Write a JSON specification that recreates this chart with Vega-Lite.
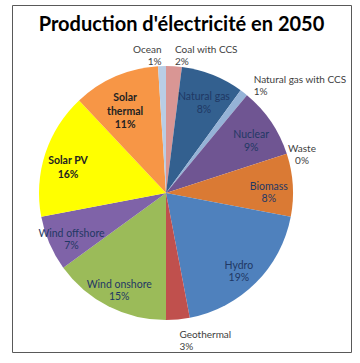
{
  "$schema": "https://vega.github.io/schema/vega-lite/v6.json",
  "autosize": "none",
  "width": 339,
  "height": 347,
  "padding": {"left": 12, "top": 5, "right": 9, "bottom": 11},
  "background": "white",
  "view": {"stroke": "#595959", "strokeWidth": 1},
  "config": {"font": "Lato"},
  "title": {
    "text": "Production d'électricité en 2050",
    "font": "Lato",
    "fontSize": 20,
    "fontWeight": "bold",
    "color": "#000000",
    "anchor": "middle",
    "frame": "group",
    "orient": "top",
    "offset": -30
  },
  "data": {
    "values": [
      {"i": 1, "name": "Coal with CCS", "value": 2, "label": "Coal with CCS\n2%"},
      {"i": 2, "name": "Natural gas", "value": 8, "label": "Natural gas\n8%"},
      {"i": 3, "name": "Natural gas with CCS", "value": 1, "label": "Natural gas with CCS\n1%"},
      {"i": 4, "name": "Nuclear", "value": 9, "label": "Nuclear\n9%"},
      {"i": 5, "name": "Waste", "value": 0, "label": "Waste\n0%"},
      {"i": 6, "name": "Biomass", "value": 8, "label": "Biomass\n8%"},
      {"i": 7, "name": "Hydro", "value": 19, "label": "Hydro\n19%"},
      {"i": 8, "name": "Geothermal", "value": 3, "label": "Geothermal\n3%"},
      {"i": 9, "name": "Wind onshore", "value": 15, "label": "Wind onshore\n15%"},
      {"i": 10, "name": "Wind offshore", "value": 7, "label": "Wind offshore\n7%"},
      {"i": 11, "name": "Solar PV", "value": 16, "label": "Solar PV\n16%"},
      {"i": 12, "name": "Solar thermal", "value": 11, "label": "Solar\nthermal\n11%"},
      {"i": 13, "name": "Ocean", "value": 1, "label": "Ocean\n1%"}
    ]
  },
  "transform": [
    {"stack": "value", "groupby": [], "sort": [{"field": "i", "order": "ascending"}], "as": ["v0", "v1"]},
    {"calculate": "(datum.v0 + datum.v1) / 2", "as": "mid"}
  ],
  "layer": [
    {
      "mark": {"type": "arc", "outerRadius": 127, "x": {"expr": "width/2 - 15.5"}, "y": {"expr": "height/2 + 14.5"}},
      "encoding": {
        "theta": {"field": "v0", "type": "quantitative", "scale": {"domain": [0, 100]}},
        "theta2": {"field": "v1"},
        "color": {
          "field": "name",
          "type": "nominal",
          "legend": null,
          "scale": {
            "domain": ["Coal with CCS", "Natural gas", "Natural gas with CCS", "Nuclear", "Waste", "Biomass", "Hydro", "Geothermal", "Wind onshore", "Wind offshore", "Solar PV", "Solar thermal", "Ocean"],
            "range": ["#D99694", "#33608F", "#95B3D7", "#6F5592", "#4BACC6", "#DA7A34", "#4F81BD", "#C0504D", "#9BBB59", "#7F63A8", "#FFFF00", "#F79646", "#B9CDE5"]
          }
        }
      }
    },
    {
      "transform": [{"filter": "datum.value >= 7 && datum.name != 'Solar PV' && datum.name != 'Solar thermal'"}],
      "mark": {"type": "text", "radius": 103, "x": {"expr": "width/2 - 15.5"}, "y": {"expr": "height/2 + 14.5"}, "fontSize": 10.5, "lineBreak": "\n", "lineHeight": 12.5, "fill": "#1F3864", "align": "center", "baseline": "middle"},
      "encoding": {
        "theta": {"field": "mid", "type": "quantitative", "scale": {"domain": [0, 100]}},
        "text": {"field": "label", "type": "nominal"}
      }
    },
    {
      "transform": [{"filter": "datum.name == 'Solar PV' || datum.name == 'Solar thermal'"}],
      "mark": {"type": "text", "radius": 103, "x": {"expr": "width/2 - 15.5"}, "y": {"expr": "height/2 + 14.5"}, "fontSize": 10.5, "fontWeight": "bold", "lineBreak": "\n", "lineHeight": 13.5, "fill": "#222222", "align": "center", "baseline": "middle"},
      "encoding": {
        "theta": {"field": "mid", "type": "quantitative", "scale": {"domain": [0, 100]}},
        "text": {"field": "label", "type": "nominal"}
      }
    },
    {
      "transform": [{"filter": "datum.name == 'Ocean'"}],
      "mark": {"type": "text", "radius": 143, "x": {"expr": "width/2 - 15.5"}, "y": {"expr": "height/2 + 14.5"}, "fontSize": 10, "lineBreak": "\n", "lineHeight": 12, "fill": "#404040", "align": "right", "baseline": "middle"},
      "encoding": {
        "theta": {"field": "mid", "type": "quantitative", "scale": {"domain": [0, 100]}},
        "text": {"field": "label", "type": "nominal"}
      }
    },
    {
      "transform": [{"filter": "datum.name == 'Coal with CCS' || datum.name == 'Natural gas with CCS' || datum.name == 'Geothermal'"}],
      "mark": {"type": "text", "radius": 143, "x": {"expr": "width/2 - 15.5"}, "y": {"expr": "height/2 + 14.5"}, "fontSize": 10, "lineBreak": "\n", "lineHeight": 12, "fill": "#404040", "align": "left", "baseline": "middle"},
      "encoding": {
        "theta": {"field": "mid", "type": "quantitative", "scale": {"domain": [0, 100]}},
        "text": {"field": "label", "type": "nominal"}
      }
    },
    {
      "transform": [{"filter": "datum.name == 'Waste'"}],
      "mark": {"type": "text", "radius": 143, "x": {"expr": "width/2 - 15.5"}, "y": {"expr": "height/2 + 14.5"}, "fontSize": 10, "lineBreak": "\n", "lineHeight": 12, "fill": "#404040", "align": "center", "baseline": "middle"},
      "encoding": {
        "theta": {"field": "mid", "type": "quantitative", "scale": {"domain": [0, 100]}},
        "text": {"field": "label", "type": "nominal"}
      }
    }
  ]
}
